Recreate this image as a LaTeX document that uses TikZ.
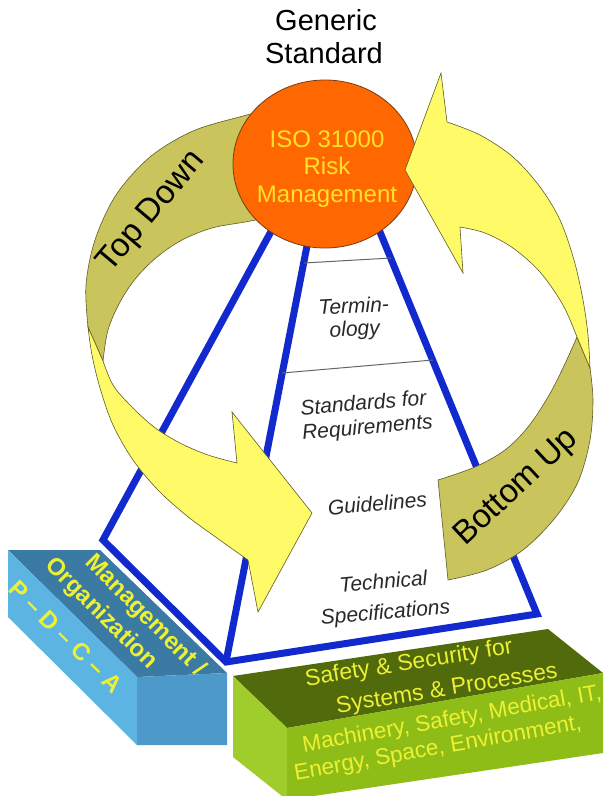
\documentclass[tikz,border=0pt]{standalone}
\usepackage{fontspec}
\setmainfont{Liberation Sans}
\usetikzlibrary{shapes.geometric}

\definecolor{pyrblue}{RGB}{18,42,205}
\definecolor{orng}{RGB}{255,104,0}
\definecolor{orngedge}{RGB}{120,60,20}
\definecolor{circtxt}{RGB}{255,226,40}
\definecolor{arryel}{RGB}{255,250,104}
\definecolor{arrolive}{RGB}{201,196,92}
\definecolor{arredge}{RGB}{95,92,40}
\definecolor{txtgray}{RGB}{40,40,40}
\definecolor{bltop}{RGB}{58,122,163}
\definecolor{blleft}{RGB}{92,180,226}
\definecolor{blfront}{RGB}{76,153,202}
\definecolor{grtop}{RGB}{80,106,12}
\definecolor{grleft}{RGB}{160,204,44}
\definecolor{grfront}{RGB}{143,189,24}
\definecolor{blktxt}{RGB}{238,240,50}

\begin{document}
\begin{tikzpicture}[x=1pt,y=-1pt,
  pyrline/.style={draw=pyrblue,line width=7pt,line join=miter},
  divline/.style={draw=black!60,line width=1pt},
  pyrtext/.style={text=txtgray,font=\fontsize{21}{24}\selectfont\itshape,inner sep=0pt,anchor=base},
  arrback/.style={fill=arrolive,draw=arredge,line width=0.6pt},
  arrfront/.style={fill=arryel,draw=arredge,line width=0.6pt},
  arrtext/.style={font=\fontsize{33}{36}\selectfont,text=black,inner sep=0pt},
  blocktext/.style={font=\fontsize{24}{28}\selectfont\bfseries,text=blktxt,inner sep=0pt,rotate=-45},
  greentext/.style={font=\fontsize{23}{26}\selectfont,text=blktxt,inner sep=0pt},
  circtext/.style={font=\fontsize{24}{28}\selectfont,text=circtxt,inner sep=0pt,anchor=base},
  titletext/.style={font=\fontsize{29}{33}\selectfont,text=black,inner sep=0pt,anchor=base}
]
\useasboundingbox (0,0) rectangle (608,796);
\fill[white] (0,0) rectangle (608,796);

% pyramid
\coordinate (apexL) at (280,215);
\coordinate (apexM) at (313,215);
\coordinate (apexR) at (373,215);
\coordinate (cornL) at (103,540);
\coordinate (cornF) at (226,662);
\coordinate (cornR) at (537,614);
\draw[pyrline] (apexL) -- (cornL) -- (cornF) -- (cornR) -- (apexR);
\draw[pyrline] (apexM) -- (cornF);
\coordinate (d1a) at (304,263);
\coordinate (d1b) at (391,258);
\coordinate (d2a) at (282,373);
\coordinate (d2b) at (433,360);
\draw[divline] (d1a) -- (d1b);
\draw[divline] (d2a) -- (d2b);

\node[pyrtext,rotate=3] (term1) at (354,313) {Termin-};
\node[pyrtext,rotate=3] (term2) at (355,336) {ology};
\node[pyrtext,rotate=5] (std1) at (364,410) {Standards for};
\node[pyrtext,rotate=5] (std2) at (368,434) {Requirements};
\node[pyrtext,rotate=5] (guide) at (378,511) {Guidelines};
\node[pyrtext,rotate=5] (tech1) at (384,589) {Technical};
\node[pyrtext,rotate=5] (tech2) at (386,619) {Specifications};

% blue block
\path[fill=bltop] (8,550) -- (100,550) -- (227,673) -- (137,677) -- cycle;
\path[fill=blleft] (8,550) -- (137,677) -- (137,745) -- (8,617) -- cycle;
\path[fill=blfront] (137,677) -- (227,673) -- (227,745) -- (137,745) -- cycle;
\node[blocktext] (mg1) at (145,616) {Management /};
\node[blocktext] (mg2) at (101,614) {Organization};
\node[blocktext] (mg3) at (66,637) {P – D – C – A};

% green block
\path[fill=grtop] (233,676) -- (548,629) -- (603,673) -- (287,728) -- cycle;
\path[fill=grleft] (233,676) -- (287,728) -- (287,800) -- (233,757) -- cycle;
\path[fill=grfront] (287,728) -- (603,673) -- (603,753) -- (287,800) -- cycle;
\node[greentext,rotate=9] (gs1) at (409,664) {Safety \& Security for};
\node[greentext,rotate=9] (gs2) at (447,690) {Systems \& Processes};
\node[greentext,rotate=10,font=\fontsize{22.5}{26}\selectfont] (gs3) at (452,720) {Machinery, Safety, Medical, IT,};
\node[greentext,rotate=10,font=\fontsize{22.5}{26}\selectfont] (gs4) at (438,749) {Energy, Space, Environment,};

% Top Down back (olive)
\path[arrback] plot[smooth,tension=0.55] coordinates {(278,107) (243,116) (193,131) (150,157) (116,195) (95,240) (86,285) (88,327)}
  -- (103,361)
  -- plot[smooth,tension=0.55] coordinates {(103,361) (108,330) (120,302) (136,278) (157,257) (182,240) (212,228) (245,222) (278,216)} -- cycle;

% circle
\node[ellipse,fill=orng,draw=orngedge,line width=0.8pt,minimum width=184pt,minimum height=168pt,inner sep=0pt] (iso) at (325,164) {};
\node[circtext] (iso1) at (327,147) {ISO 31000};
\node[circtext] (iso2) at (327,174) {Risk};
\node[circtext] (iso3) at (327,202) {Management};

% Top Down front (yellow)
\path[arrfront] plot[smooth,tension=0.55] coordinates {(88,327) (92,355) (100,388) (113,425) (133,460) (158,490) (187,516) (217,538) (248,560)}
  -- (258,612) -- (312,513) -- (232,412) -- (237,463)
  -- plot[smooth,tension=0.55] coordinates {(237,463) (208,455) (180,443) (154,427) (130,405) (113,385) (103,361)} -- cycle;

% Bottom Up back (olive)
\path[arrback] plot[smooth,tension=0.55] coordinates {(577,337) (563,368) (548,397) (528,427) (505,450) (475,467) (438,480)}
  -- (448,580)
  -- plot[smooth,tension=0.55] coordinates {(448,580) (487,570) (523,550) (555,518) (578,482) (590,440) (593,400) (590,368)} -- cycle;

% Bottom Up front (yellow)
\path[arrfront] plot[smooth,tension=0.55] coordinates {(447,122) (480,135) (513,157) (540,187) (560,220) (574,260) (583,300) (588,335) (590,368)}
  -- (577,337)
  -- plot[smooth,tension=0.55] coordinates {(577,337) (563,305) (540,272) (513,248) (485,233) (460,227)}
  -- (463,273) -- (405,170) -- (441,73) -- cycle;

\node[arrtext,rotate=50] (td) at (152,212) {Top Down};
\node[arrtext,rotate=43] (bu) at (517,488) {Bottom Up};

% title
\node[titletext] (gen1) at (326,30) {Generic};
\node[titletext] (gen2) at (324,63) {Standard};
\end{tikzpicture}
\end{document}
